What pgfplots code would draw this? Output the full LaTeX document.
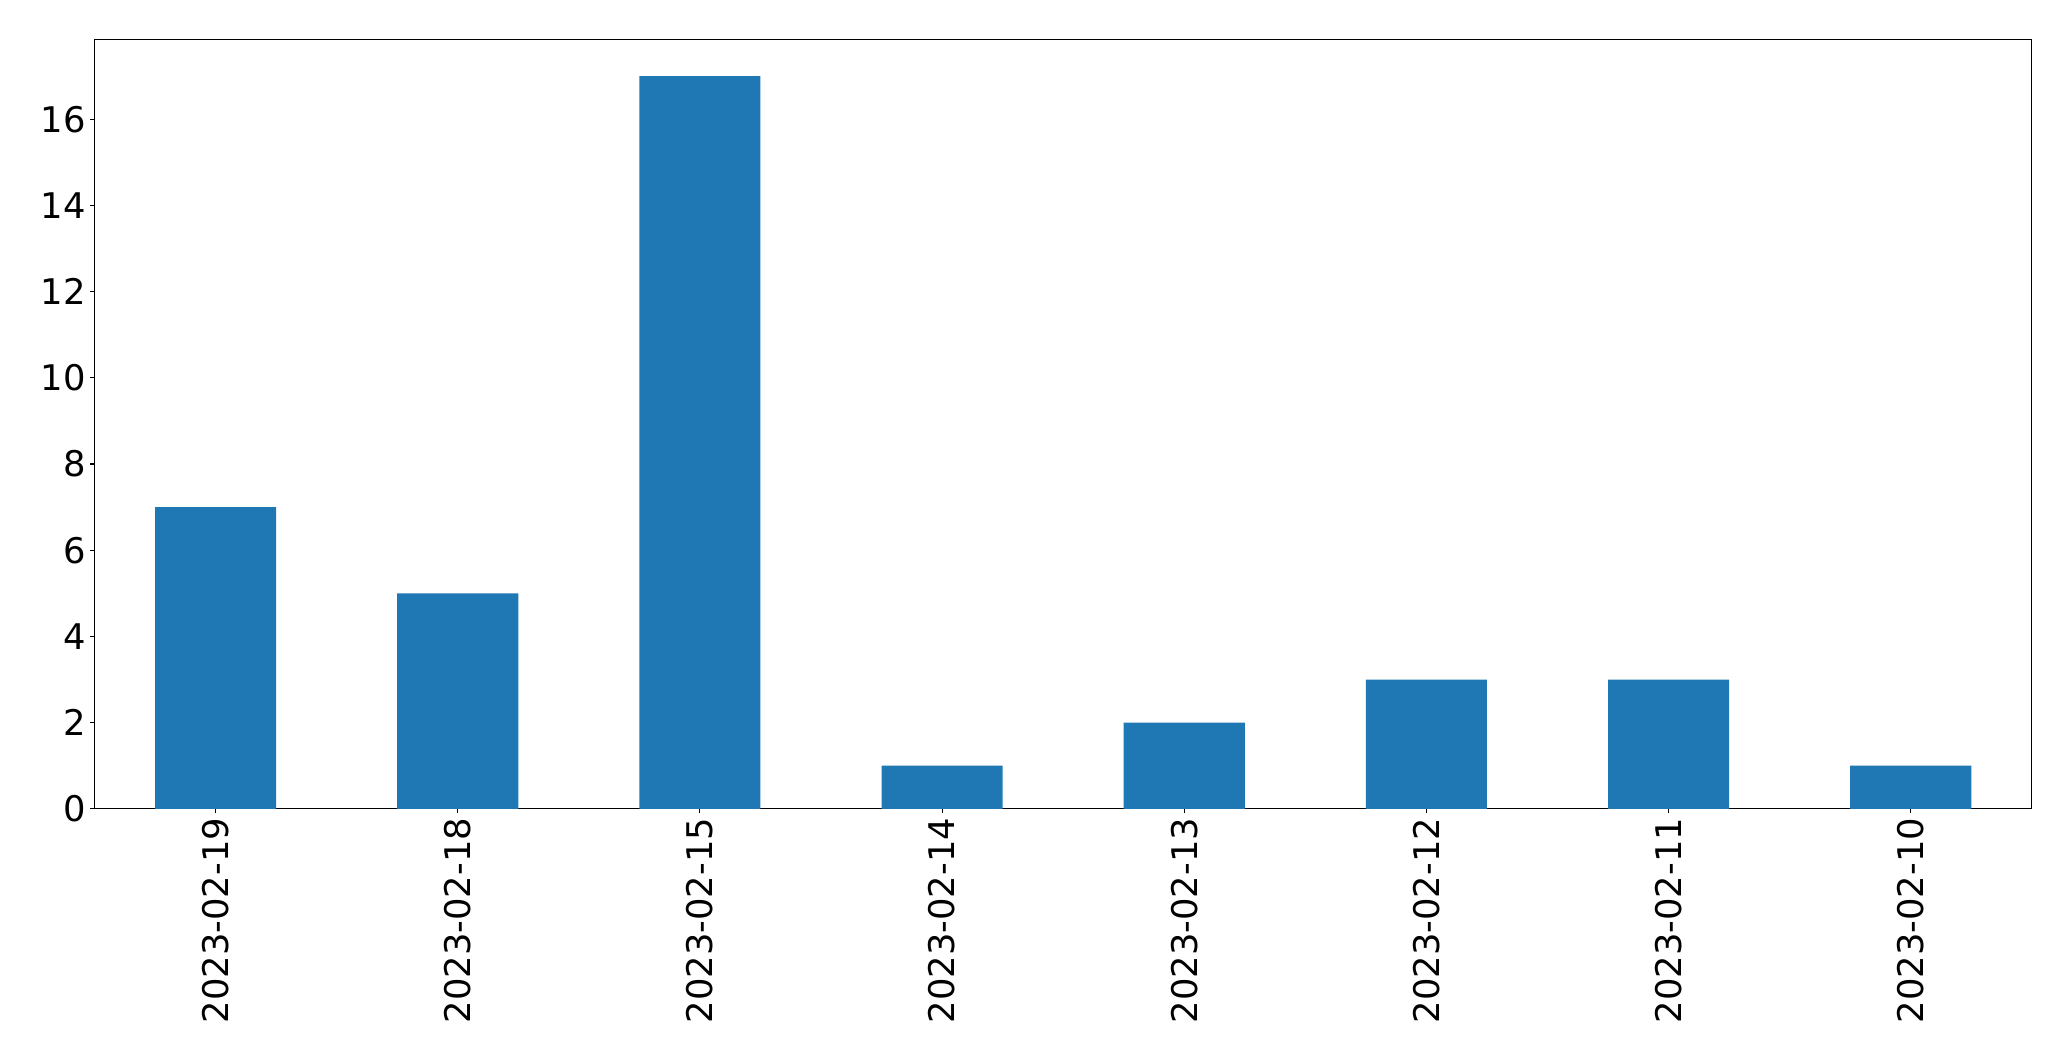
\documentclass[border=0pt]{standalone}
\usepackage{pgfplots}
\pgfplotsset{compat=1.18}
\usepackage{fontspec}
\setmainfont{DejaVu Sans}
\definecolor{mplblue}{HTML}{1F77B4}
\begin{document}
\begin{tikzpicture}
\useasboundingbox (-70.9pt,-189pt) rectangle (1482.3pt,606.6pt);
\begin{axis}[
  name=main, at={(0,0)}, anchor=south west,
  width=1453pt, height=577pt, scale only axis,
  xmin=-0.5, xmax=7.5, ymin=0, ymax=17.85,
  ybar, bar width=0.5,
  xtick={0,1,2,3,4,5,6,7},
  xticklabels={2023-02-19,2023-02-18,2023-02-15,2023-02-14,2023-02-13,2023-02-12,2023-02-11,2023-02-10},
  x tick label style={rotate=90, anchor=east},
  ytick={0,2,4,6,8,10,12,14,16},
  tick align=outside, xtick pos=bottom, ytick pos=left,
  major tick length=3.2pt,
  tick style={black, line width=0.8pt},
  axis line style={line width=0.8pt},
  ticklabel style={font=\fontsize{26.5}{31}\selectfont},
  /pgf/number format/assume math mode=true,
]
\addplot[fill=mplblue, draw=none] coordinates {(0,7) (1,5) (2,17) (3,1) (4,2) (5,3) (6,3) (7,1)};
\end{axis}
\end{tikzpicture}
\end{document}
